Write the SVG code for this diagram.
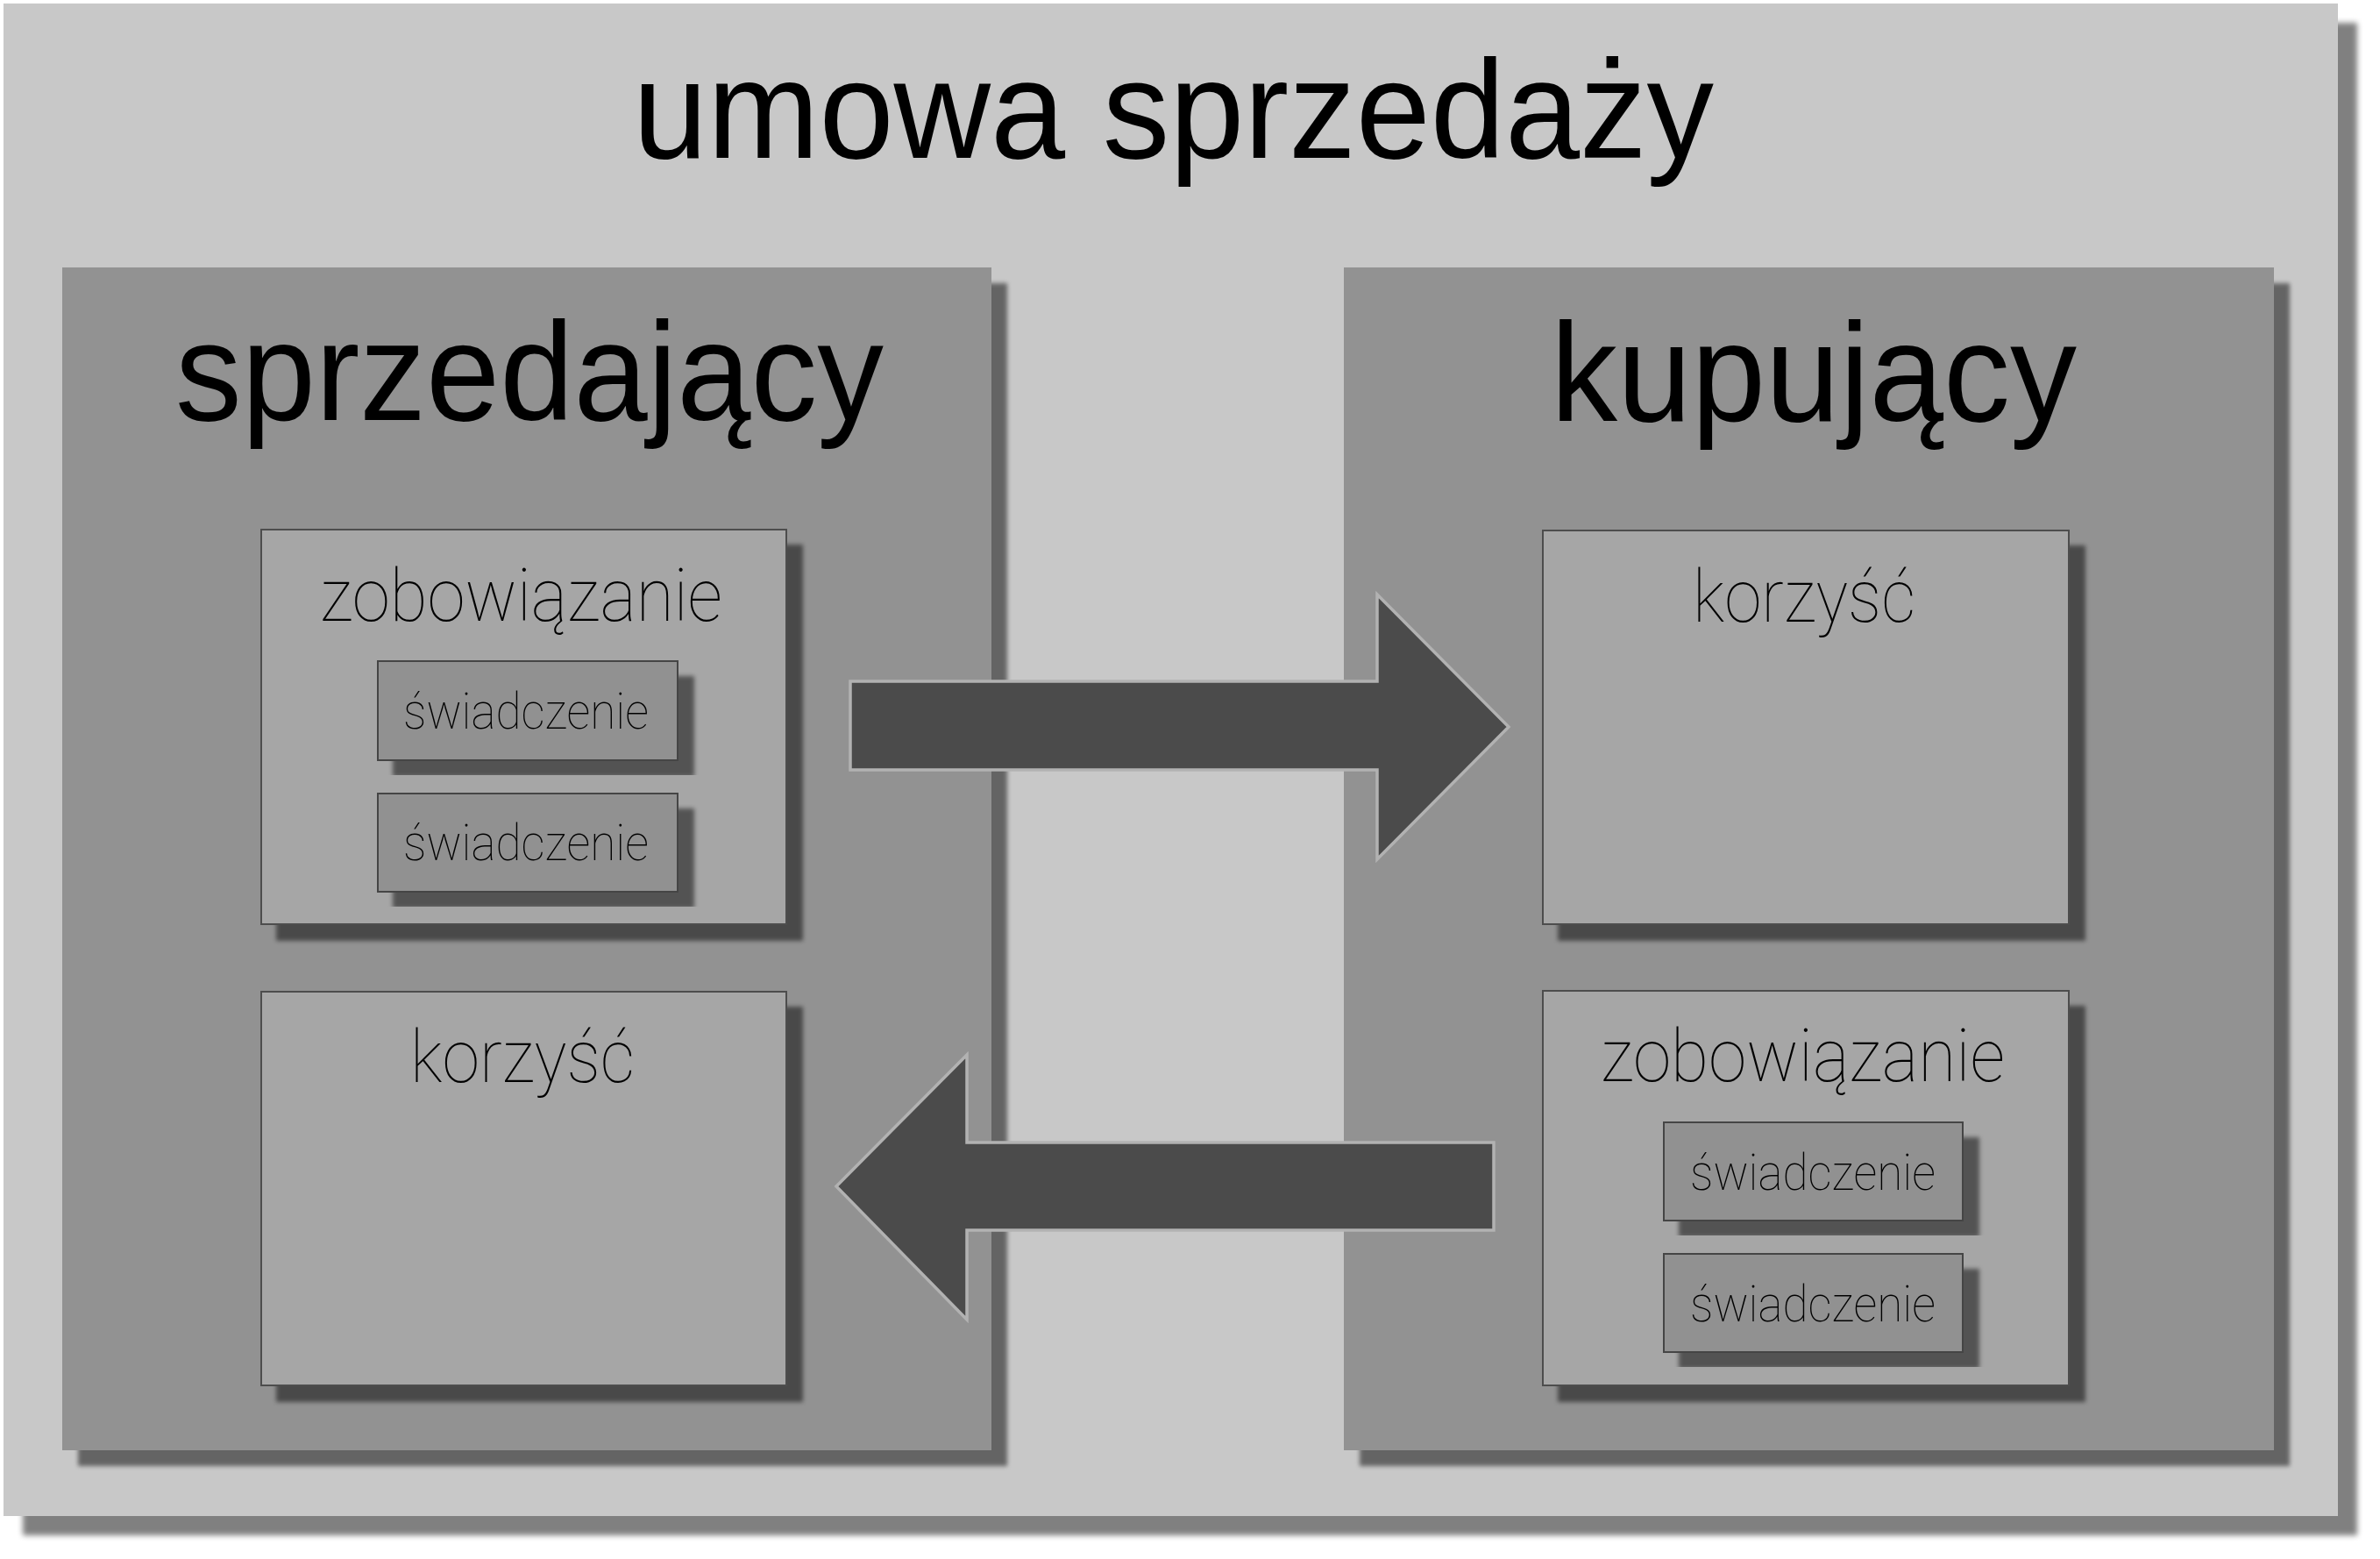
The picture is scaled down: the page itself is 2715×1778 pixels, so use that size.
<svg xmlns="http://www.w3.org/2000/svg" width="2715" height="1778" viewBox="0 0 2715 1778">
  <style>
    .heading { font-family: "Liberation Sans", Arial, sans-serif; font-size: 160px; fill: #000; }
    .label { font-family: Roboto, Lato, Inter, "Liberation Sans", sans-serif; font-weight: 100; font-size: 84px; fill: #000; }
    .small { font-family: Roboto, Lato, Inter, "Liberation Sans", sans-serif; font-weight: 100; font-size: 57px; fill: #000; }
    .contract { fill: #c8c8c8; }
    .party { fill: #929292; }
    .part { fill: #a6a6a6; stroke: #4e4e4e; stroke-width: 2; }
    .item { fill: #919191; stroke: #444; stroke-width: 2; }
    .arrow { fill: #4b4b4b; stroke: #b2b2b2; stroke-width: 3.5; stroke-linejoin: miter; }
  </style>
  <defs>
    <filter id="drop" x="-5%" y="-5%" width="120%" height="120%">
      <feGaussianBlur in="SourceAlpha" stdDeviation="2.5"/>
      <feOffset dx="18" dy="18"/>
      <feComponentTransfer><feFuncA type="linear" slope="0.5"/></feComponentTransfer>
      <feMerge><feMergeNode/><feMergeNode in="SourceGraphic"/></feMerge>
    </filter>
    <filter id="drop-big" x="-5%" y="-5%" width="115%" height="115%">
      <feGaussianBlur in="SourceAlpha" stdDeviation="3"/>
      <feOffset dx="22" dy="22"/>
      <feComponentTransfer><feFuncA type="linear" slope="0.5"/></feComponentTransfer>
      <feMerge><feMergeNode/><feMergeNode in="SourceGraphic"/></feMerge>
    </filter>
  </defs>

  <rect x="0" y="0" width="2715" height="1778" fill="#ffffff"/>

  <!-- whole contract -->
  <g id="contract">
    <rect class="contract" x="4" y="4" width="2663" height="1725" filter="url(#drop-big)"/>
    <text class="heading" x="722" y="180" textLength="1233" lengthAdjust="spacingAndGlyphs">umowa sprzedaży</text>
  </g>

  <!-- seller side -->
  <g id="seller">
    <rect class="party" x="71" y="305" width="1060" height="1349" filter="url(#drop)"/>
    <text class="heading" x="200" y="479" font-size="158" textLength="808" lengthAdjust="spacingAndGlyphs">sprzedający</text>
  </g>

  <g id="seller-obligation">
    <rect class="part" x="298" y="604" width="599" height="450" filter="url(#drop)"/>
    <text class="label" x="365" y="708" textLength="459" lengthAdjust="spacingAndGlyphs">zobowiązanie</text>
  </g>
  <g id="seller-performance-1">
    <rect class="item" x="431" y="754" width="342" height="113" filter="url(#drop)"/>
    <text class="small" x="460" y="831" textLength="280" lengthAdjust="spacingAndGlyphs">świadczenie</text>
  </g>
  <g id="seller-performance-2">
    <rect class="item" x="431" y="905" width="342" height="112" filter="url(#drop)"/>
    <text class="small" x="460" y="981" textLength="280" lengthAdjust="spacingAndGlyphs">świadczenie</text>
  </g>

  <g id="seller-benefit">
    <rect class="part" x="298" y="1131" width="599" height="449" filter="url(#drop)"/>
    <text class="label" x="468" y="1234" textLength="256" lengthAdjust="spacingAndGlyphs">korzyść</text>
  </g>

  <!-- buyer side -->
  <g id="buyer">
    <rect class="party" x="1533" y="305" width="1061" height="1349" filter="url(#drop)"/>
    <text class="heading" x="1769" y="480" font-size="158" textLength="600" lengthAdjust="spacingAndGlyphs">kupujący</text>
  </g>

  <g id="buyer-benefit">
    <rect class="part" x="1760" y="605" width="600" height="449" filter="url(#drop)"/>
    <text class="label" x="1931" y="709" textLength="254" lengthAdjust="spacingAndGlyphs">korzyść</text>
  </g>

  <g id="buyer-obligation">
    <rect class="part" x="1760" y="1130" width="600" height="450" filter="url(#drop)"/>
    <text class="label" x="1826" y="1233" textLength="461" lengthAdjust="spacingAndGlyphs">zobowiązanie</text>
  </g>
  <g id="buyer-performance-1">
    <rect class="item" x="1898" y="1280" width="341" height="112" filter="url(#drop)"/>
    <text class="small" x="1928" y="1357" textLength="280" lengthAdjust="spacingAndGlyphs">świadczenie</text>
  </g>
  <g id="buyer-performance-2">
    <rect class="item" x="1898" y="1430" width="341" height="112" filter="url(#drop)"/>
    <text class="small" x="1928" y="1507" textLength="280" lengthAdjust="spacingAndGlyphs">świadczenie</text>
  </g>

  <!-- exchange arrows -->
  <g id="connectors">
    <polygon class="arrow" points="970,777 1571,777 1571,678 1721,829 1571,980 1571,878 970,878"/>
    <polygon class="arrow" points="1704,1303 1103,1303 1103,1203 954,1353 1103,1505 1103,1403 1704,1403"/>
  </g>
</svg>
